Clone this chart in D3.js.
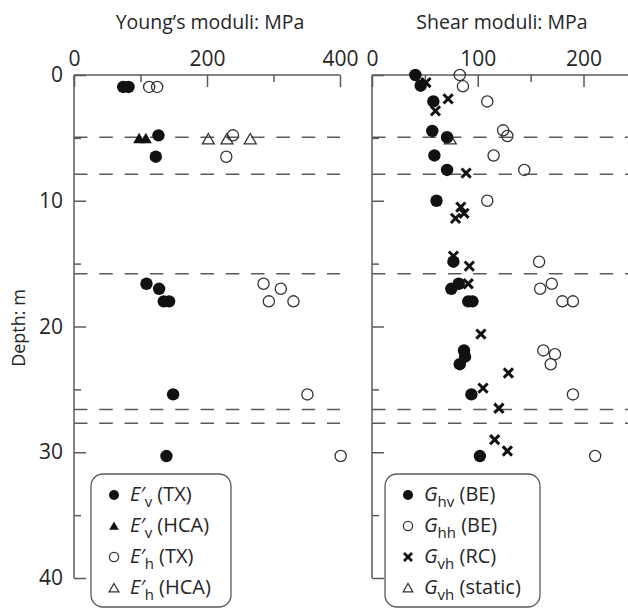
<!DOCTYPE html>
<html>
<head>
<meta charset="utf-8">
<script src="https://cdn.jsdelivr.net/npm/d3@7"></script>
<style>
  body { margin: 0; background: #fff; }
  text { font-family: "Open Sans", "Noto Sans", sans-serif; fill: #262626; }
</style>
</head>
<body>
<script>
// values: [modulus MPa, depth m]
const evTX = [[74,0.95],[82,0.95],[127,4.8],[123,6.5],[109,16.6],[128,17.0],[135,18.0],[143,18.0],[149,25.4],[139,30.3]];
const evHCA = [[98,5.15],[108,5.15]];
const ehTX = [[113,0.95],[125,0.95],[239,4.8],[229,6.5],[285,16.6],[311,17.0],[293,18.0],[330,18.0],[351,25.4],[401,30.3]];
const ehHCA = [[202,5.2],[230,5.2],[265,5.2]];

const ghvBE = [[41,0],[46,0.85],[58,2.1],[57,4.45],[71,4.95],[59,6.4],[71,7.55],[61,10],[77,14.85],[82,16.6],[75,17.0],[91,18],[95,18],[87,21.9],[88,22.4],[83,23.0],[94,25.4],[102,30.3]];
const ghhBE = [[83,0],[86,0.9],[109,2.1],[124,4.4],[128,4.85],[115,6.4],[144,7.55],[109,10],[158,14.85],[170,16.6],[159,17.0],[180,18],[190,18],[162,21.9],[173,22.2],[169,23.0],[190,25.4],[211,30.3]];
const gvhRC = [[51,0.6],[72,1.9],[60,2.85],[89,7.8],[84,10.5],[87,11.0],[79,11.4],[77,14.4],[92,15.2],[91,16.6],[103,20.6],[129,23.7],[105,24.9],[120,26.5],[116,29.0],[128,29.9]];
const gvhStatic = [[74,5.2]];

const layerDepths = [4.95, 7.9, 15.8, 26.6, 27.7];
const depthTicks = [0, 10, 20, 30, 40];
const depthMinor = [5, 15, 25, 35];
const youngTicks = [0, 200, 400];
const youngMinor = [100, 300];
const shearTicks = [0, 100, 200];
const shearMinor = [50, 150];

const W = 628, H = 609;
const axisCol = "#5a5a5a";
const svg = d3.select("body").append("svg").attr("width", W).attr("height", H);

var y = d3.scaleLinear().domain([0, 40]).range([75, 578]);
var xL = d3.scaleLinear().domain([0, 400]).range([74, 340]);
var xR = d3.scaleLinear().domain([0, 200]).range([372, 583.5]);

// titles
svg.append("text").attr("x", 210).attr("y", 29).attr("text-anchor", "middle")
  .style("font-size", "19.5px").text("Young’s moduli: MPa");
svg.append("text").attr("x", 502).attr("y", 29).attr("text-anchor", "middle")
  .style("font-size", "19.5px").text("Shear moduli: MPa");
svg.append("text").attr("transform", "translate(25,328) rotate(-90)").attr("text-anchor", "middle")
  .style("font-size", "18px").text("Depth: m");

function drawAxes(x, majors, minors, xEnd, showY) {
  var g = svg.append("g");
  var top = g.append("g").attr("transform", "translate(0," + y(0) + ")")
    .call(d3.axisTop(x).tickValues(majors).tickSizeInner(-12).tickSizeOuter(0).tickPadding(9).tickFormat(d3.format("d")));
  top.selectAll("text").style("font-size", "21px");
  g.append("g").attr("transform", "translate(0," + y(0) + ")")
    .call(d3.axisTop(x).tickValues(minors).tickSizeInner(-7).tickSizeOuter(0).tickFormat(""));
  var left = g.append("g").attr("transform", "translate(" + x(0) + ",0)")
    .call(d3.axisLeft(y).tickValues(depthTicks).tickSizeInner(-12).tickSizeOuter(0).tickPadding(11)
      .tickFormat(showY ? d3.format("d") : ""));
  left.selectAll("text").style("font-size", "21px");
  g.append("g").attr("transform", "translate(" + x(0) + ",0)")
    .call(d3.axisLeft(y).tickValues(depthMinor).tickSizeInner(-7).tickSizeOuter(0).tickFormat(""));
  g.selectAll(".domain").remove();
  g.selectAll(".tick line").attr("stroke", axisCol).attr("stroke-width", 1.5);
  g.selectAll(".tick text").style("font-family", "'Open Sans', sans-serif").attr("fill", "#262626");
  g.append("line").attr("x1", x(0)).attr("x2", xEnd).attr("y1", y(0)).attr("y2", y(0))
    .attr("stroke", axisCol).attr("stroke-width", 1.5);
  g.append("line").attr("x1", x(0)).attr("x2", x(0)).attr("y1", y(0)).attr("y2", y(40))
    .attr("stroke", axisCol).attr("stroke-width", 1.5);

  g.selectAll(".layer").data(layerDepths).join("line").attr("class", "layer")
    .attr("x1", x(0)).attr("x2", xEnd)
    .attr("y1", d => y(d)).attr("y2", d => y(d))
    .attr("stroke", axisCol).attr("stroke-width", 1.5)
    .attr("stroke-dasharray", "13.5,11.8");
}
drawAxes(xL, youngTicks, youngMinor, xL(400), true);
drawAxes(xR, shearTicks, shearMinor, W, false);

var tri = d3.symbol().type(d3.symbolTriangle).size(62);
var triSmall = d3.symbol().type(d3.symbolTriangle).size(40);

function cross(s) {
  return "M" + (-s) + "," + (-s) + "L" + s + "," + s + "M" + (-s) + "," + s + "L" + s + "," + (-s);
}

function dots(g, data, x, kind) {
  var sel = g.selectAll(null).data(data);
  if (kind == "filled") {
    sel.join("circle").attr("cx", d => x(d[0])).attr("cy", d => y(d[1])).attr("r", 6.2).attr("fill", "#111");
  } else if (kind == "open") {
    sel.join("circle").attr("cx", d => x(d[0])).attr("cy", d => y(d[1])).attr("r", 5.6)
      .attr("fill", "none").attr("stroke", "#333").attr("stroke-width", 1.3);
  } else if (kind == "tri") {
    sel.join("path").attr("d", tri).attr("transform", d => "translate(" + x(d[0]) + "," + y(d[1]) + ")").attr("fill", "#111");
  } else if (kind == "otri") {
    sel.join("path").attr("d", tri).attr("transform", d => "translate(" + x(d[0]) + "," + y(d[1]) + ")")
      .attr("fill", "none").attr("stroke", "#333").attr("stroke-width", 1.3);
  } else if (kind == "x") {
    sel.join("path").attr("d", cross(4.6)).attr("transform", d => "translate(" + x(d[0]) + "," + y(d[1]) + ")")
      .attr("fill", "none").attr("stroke", "#111").attr("stroke-width", 3);
  }
}

var pts = svg.append("g");
dots(pts, ehTX, xL, "open");
dots(pts, ehHCA, xL, "otri");
dots(pts, evTX, xL, "filled");
dots(pts, evHCA, xL, "tri");

dots(pts, ghhBE, xR, "open");
dots(pts, gvhStatic, xR, "otri");
dots(pts, ghvBE, xR, "filled");
dots(pts, gvhRC, xR, "x");

// legends
function legend(x0, width, items) {
  var g = svg.append("g");
  g.append("rect").attr("x", x0).attr("y", 474).attr("width", width).attr("height", 133)
    .attr("rx", 12).attr("fill", "#fff").attr("stroke", axisCol).attr("stroke-width", 1.3);
  items.forEach(function(it, i) {
    var cy = 495 + i * 31;
    var mx = x0 + 23;
    if (it.kind == "filled") g.append("circle").attr("cx", mx).attr("cy", cy).attr("r", 5).attr("fill", "#111");
    if (it.kind == "open") g.append("circle").attr("cx", mx).attr("cy", cy).attr("r", 4.6).attr("fill", "none").attr("stroke", "#333").attr("stroke-width", 1.3);
    if (it.kind == "tri") g.append("path").attr("d", triSmall).attr("transform", "translate(" + mx + "," + (cy + 1) + ")").attr("fill", "#111");
    if (it.kind == "otri") g.append("path").attr("d", triSmall).attr("transform", "translate(" + mx + "," + (cy + 1) + ")").attr("fill", "none").attr("stroke", "#333").attr("stroke-width", 1.3);
    if (it.kind == "x") g.append("path").attr("d", cross(4)).attr("transform", "translate(" + mx + "," + cy + ")").attr("fill", "none").attr("stroke", "#111").attr("stroke-width", 2.8);
    var t = g.append("text").attr("x", x0 + 39).attr("y", cy + 6).style("font-size", "20px");
    t.append("tspan").style("font-style", "italic").text(it.sym + (it.prime ? "′" : ""));
    t.append("tspan").attr("dy", 6).style("font-size", "15px").text(it.sub);
    t.append("tspan").attr("dy", -6).text(" " + it.rest);
  });
}
legend(91, 140, [
  {kind: "filled", sym: "E", prime: true, sub: "v", rest: "(TX)"},
  {kind: "tri", sym: "E", prime: true, sub: "v", rest: "(HCA)"},
  {kind: "open", sym: "E", prime: true, sub: "h", rest: "(TX)"},
  {kind: "otri", sym: "E", prime: true, sub: "h", rest: "(HCA)"}
]);
legend(385, 155, [
  {kind: "filled", sym: "G", prime: false, sub: "hv", rest: "(BE)"},
  {kind: "open", sym: "G", prime: false, sub: "hh", rest: "(BE)"},
  {kind: "x", sym: "G", prime: false, sub: "vh", rest: "(RC)"},
  {kind: "otri", sym: "G", prime: false, sub: "vh", rest: "(static)"}
]);
</script>
</body>
</html>
